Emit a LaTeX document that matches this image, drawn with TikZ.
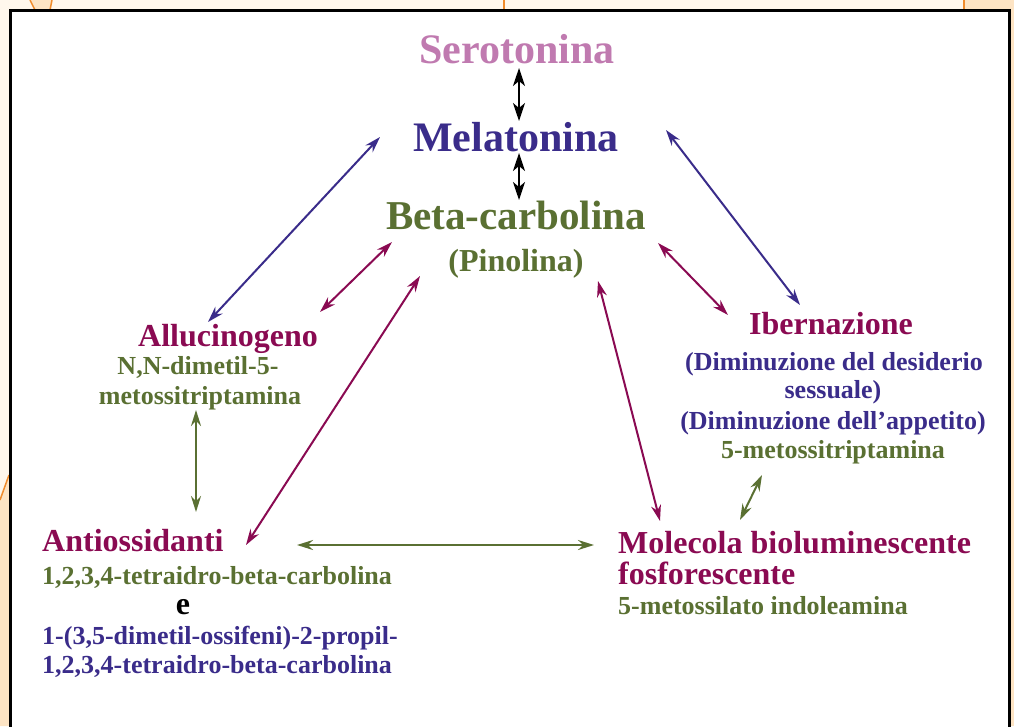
\documentclass[tikz,border=0pt]{standalone}
\usepackage{fontspec}
\setmainfont{Liberation Serif}
\usetikzlibrary{arrows.meta}
\definecolor{sero}{RGB}{192,122,176}
\definecolor{indig}{RGB}{58,44,138}
\definecolor{olive}{RGB}{90,112,50}
\definecolor{mag}{RGB}{138,10,82}
\definecolor{cream}{RGB}{255,247,236}
\definecolor{beige}{RGB}{253,228,196}
\definecolor{orng}{RGB}{240,140,45}
\tikzset{
  big/.style={inner sep=0pt, font=\fontsize{41}{41}\selectfont\bfseries},
  head/.style={inner sep=0pt, font=\fontsize{32}{32}\selectfont\bfseries},
  small/.style={inner sep=0pt, font=\fontsize{26}{26}\selectfont\bfseries},
  arr/.style={line width=2pt, {Stealth[length=16pt,width=10pt]}-{Stealth[length=16pt,width=10pt]}},
  barr/.style={line width=1.6pt, {Stealth[length=18pt,width=12pt,inset=5pt]}-{Stealth[length=18pt,width=12pt,inset=5pt]}},
  deco/.style={orng, line width=1.5pt}
}
\begin{document}
\begin{tikzpicture}[x=1pt,y=-1pt]
\useasboundingbox (0,0) rectangle (1014,726);
\clip (0,0) rectangle (1014,726);
% background decoration
\fill[cream] (0,0) rectangle (1014,726);
\fill[beige] (30,0) -- (52,0) -- (50,10) -- (35,10) -- cycle;
\draw[deco] (30,0) -- (35,10);
\draw[deco] (52,0) -- (50,10);
\fill[beige] (964,0) rectangle (1014,10);
\fill[beige] (1008,0) rectangle (1014,726);
\draw[deco] (964,0) -- (964,10);
\draw[deco] (504,0) -- (504,10);
\fill[beige] (0,500) -- (9,475) -- (9,726) -- (0,726) -- cycle;
\draw[deco] (0,500) -- (9,475);
% frame
\draw[line width=3pt, fill=white] (10,10) rectangle (1009,740);

% texts
\node[anchor=base, inner sep=0pt, font=\fontsize{42}{42}\selectfont\bfseries, text=sero] (sero) at (517,63) {Serotonina};
\node[big, anchor=base, text=indig, font=\fontsize{42}{42}\selectfont\bfseries] (mela) at (516,151) {Melatonina};
\node[big, anchor=base, text=olive] (beta) at (516,229) {Beta-carbolina};
\node[head, anchor=base, text=olive] (pino) at (516,271) {(Pinolina)};

\node[head, anchor=base, text=mag] (allu) at (228,346) {Allucinogeno};
\node[small, anchor=base, text=olive] (allua) at (198,374) {N,N-dimetil-5-};
\node[small, anchor=base, text=olive] (allub) at (200,404) {metossitriptamina};

\node[head, anchor=base, text=mag] (iber) at (831,334) {Ibernazione};
\node[small, anchor=base, text=indig] (ibera) at (834,370) {(Diminuzione del desiderio};
\node[small, anchor=base, text=indig] (iberb) at (833,398) {sessuale)};
\node[small, anchor=base, text=indig] (iberc) at (833,429) {(Diminuzione dell’appetito)};
\node[small, anchor=base, text=olive] (iberd) at (833,458) {5-metossitriptamina};

\node[head, anchor=base west, text=mag] (anti) at (42,551) {Antiossidanti};
\node[small, anchor=base west, text=olive] (antia) at (42,584) {1,2,3,4-tetraidro-beta-carbolina};
\node[head, anchor=base, text=black] (antie) at (183,614) {e};
\node[small, anchor=base west, text=indig] (antib) at (42,644) {1-(3,5-dimetil-ossifeni)-2-propil-};
\node[small, anchor=base west, text=indig] (antic) at (42,673) {1,2,3,4-tetraidro-beta-carbolina};

\node[head, anchor=base west, text=mag] (mole) at (618,553) {Molecola bioluminescente};
\node[head, anchor=base west, text=mag] (molea) at (618,584) {fosforescente};
\node[small, anchor=base west, text=olive] (moleb) at (618,614) {5-metossilato indoleamina};

% arrow end points
\coordinate (s1) at (519,68);  \coordinate (m1) at (519,121);
\coordinate (m2) at (519,153); \coordinate (b1) at (519,200);
\coordinate (mL) at (380,137); \coordinate (aU) at (208,322);
\coordinate (mR) at (666,130); \coordinate (iU) at (800,305);
\coordinate (bL) at (392,242); \coordinate (aR) at (320,312);
\coordinate (bR) at (658,243); \coordinate (iL) at (728,315);
\coordinate (pL) at (420,276); \coordinate (nU) at (246,545);
\coordinate (pR) at (598,281); \coordinate (oU) at (660,521);
\coordinate (aD) at (196,410); \coordinate (nT) at (196,512);
\coordinate (nR) at (297,545); \coordinate (oL) at (594,545);
\coordinate (iD) at (762,475); \coordinate (oT) at (740,520);

\draw[barr] (s1) -- (m1);
\draw[barr] (m2) -- (b1);
\draw[arr, indig] (mL) -- (aU);
\draw[arr, indig] (mR) -- (iU);
\draw[arr, mag] (bL) -- (aR);
\draw[arr, mag] (bR) -- (iL);
\draw[arr, mag] (pL) -- (nU);
\draw[arr, mag] (pR) -- (oU);
\draw[arr, olive] (aD) -- (nT);
\draw[arr, olive] (nR) -- (oL);
\draw[arr, olive] (iD) -- (oT);
\end{tikzpicture}
\end{document}
